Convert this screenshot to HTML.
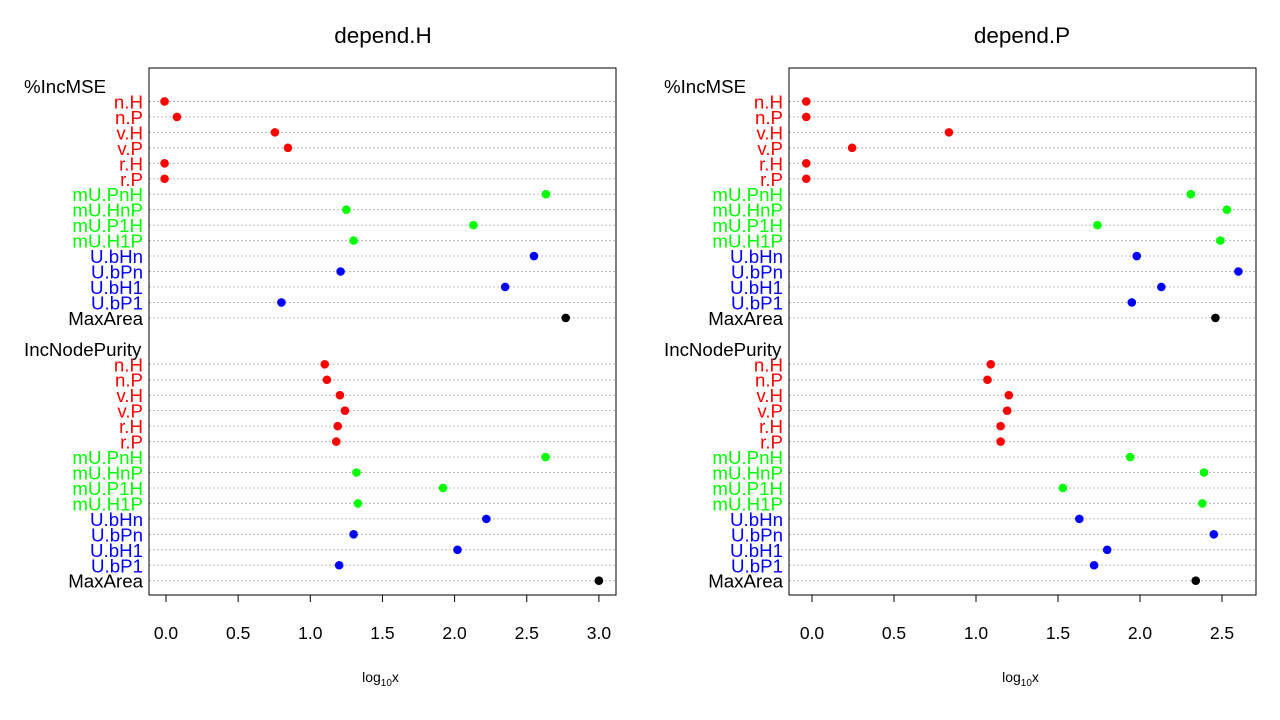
<!DOCTYPE html>
<html><head><meta charset="utf-8"><style>
html,body{margin:0;padding:0;background:#fff;}
svg{display:block;font-family:"Liberation Sans",Arial,sans-serif;}
</style></head><body>
<svg id="chart" width="1280" height="720" viewBox="0 0 1280 720"></svg>
<script>
const labels = ["n.H","n.P","v.H","v.P","r.H","r.P","mU.PnH","mU.HnP","mU.P1H","mU.H1P","U.bHn","U.bPn","U.bH1","U.bP1","MaxArea"];
const labelColors = ["#ff0000","#ff0000","#ff0000","#ff0000","#ff0000","#ff0000","#00ff00","#00ff00","#00ff00","#00ff00","#0000ff","#0000ff","#0000ff","#0000ff","#000000"];
const groups = ["%IncMSE","IncNodePurity"];
const titles = ["depend.H","depend.P"];
const hMSE = [-0.01,0.076,0.755,0.845,-0.01,-0.01,2.633,1.25,2.13,1.30,2.55,1.21,2.35,0.80,2.77];
const hPur = [1.10,1.115,1.205,1.24,1.19,1.18,2.63,1.32,1.92,1.33,2.22,1.30,2.02,1.20,3.0];
const pMSE = [-0.035,-0.035,0.835,0.245,-0.035,-0.035,2.31,2.53,1.74,2.49,1.98,2.60,2.13,1.95,2.46];
const pPur = [1.09,1.07,1.20,1.19,1.15,1.15,1.94,2.39,1.53,2.38,1.63,2.45,1.80,1.72,2.34];
const ticksH = [0,0.5,1,1.5,2,2.5,3];
const ticksP = [0,0.5,1,1.5,2,2.5];
const tickLabelsH = ["0.0","0.5","1.0","1.5","2.0","2.5","3.0"];
const tickLabelsP = ["0.0","0.5","1.0","1.5","2.0","2.5"];

const NS="http://www.w3.org/2000/svg";
const svg=document.getElementById('chart');
function mk(tag,attrs,parent,text){const e=document.createElementNS(NS,tag);for(const k in attrs)e.setAttribute(k,attrs[k]);if(text!==undefined)e.textContent=text;(parent||svg).appendChild(e);return e;}

const panels=[
 {x0:149,x1:616,zero:166,ppu:144.3,labelX:143,headX:24,title:titles[0],cx:383,data:[hMSE,hPur],ticks:ticksH,tl:tickLabelsH,name:'depend-h'},
 {x0:789,x1:1256,zero:812,ppu:164,labelX:783,headX:664,title:titles[1],cx:1022,data:[pMSE,pPur],ticks:ticksP,tl:tickLabelsP,name:'depend-p'}
];
const y0=86, step=15.46;
function rowY(i){return y0+i*step;}
panels.forEach(p=>{
 const g=mk('g',{});
 
 
 const sx=v=>p.zero+v*p.ppu;
 const t=mk('text',{x:p.cx,y:43,'font-size':22.5,'text-anchor':'middle',fill:'#000'},g,p.title);
 
 
 groups.forEach((gn,gi)=>{
  const base=gi*17;
  const h=mk('text',{x:p.headX,y:rowY(base)+7,'font-size':18.7,fill:'#000'},g,gn);
  
  
  labels.forEach((lb,i)=>{
   const y=rowY(base+1+i);
   const ln=mk('line',{x1:p.x0,x2:p.x1,y1:y,y2:y,stroke:'#bbb','stroke-width':1,'stroke-dasharray':'2,2'},g);
   
   
   const tx=mk('text',{x:p.labelX,y:y+7,'font-size':18.7,'text-anchor':'end',fill:labelColors[i]},g,lb);
   
   
   const c=mk('circle',{cx:sx(p.data[gi][i]),cy:y,r:4.3,fill:labelColors[i]},g);
   
   
  });
 });
 const box=mk('rect',{x:p.x0,y:68,width:p.x1-p.x0,height:527,fill:'none',stroke:'#000','stroke-width':1},g);
 
 
 const ax=mk('line',{x1:sx(p.ticks[0]),x2:sx(p.ticks[p.ticks.length-1]),y1:595,y2:595,stroke:'#000'},g);
 
 
 p.ticks.forEach((tv,i)=>{
  const tk=mk('line',{x1:sx(tv),x2:sx(tv),y1:595,y2:602,stroke:'#000'},g);
  
  
  const tl=mk('text',{x:sx(tv),y:639,'font-size':17.5,'text-anchor':'middle',fill:'#000'},g,p.tl[i]);
  
  
 });
 const xl=mk('text',{x:(p.x0+p.x1)/2-2,y:682,'font-size':14,'text-anchor':'middle',fill:'#000'},g);
 
 
 mk('tspan',{},xl,'log');
 mk('tspan',{'font-size':10,dy:4},xl,'10');
 mk('tspan',{dy:-4},xl,'x');
});
</script>
</body></html>
